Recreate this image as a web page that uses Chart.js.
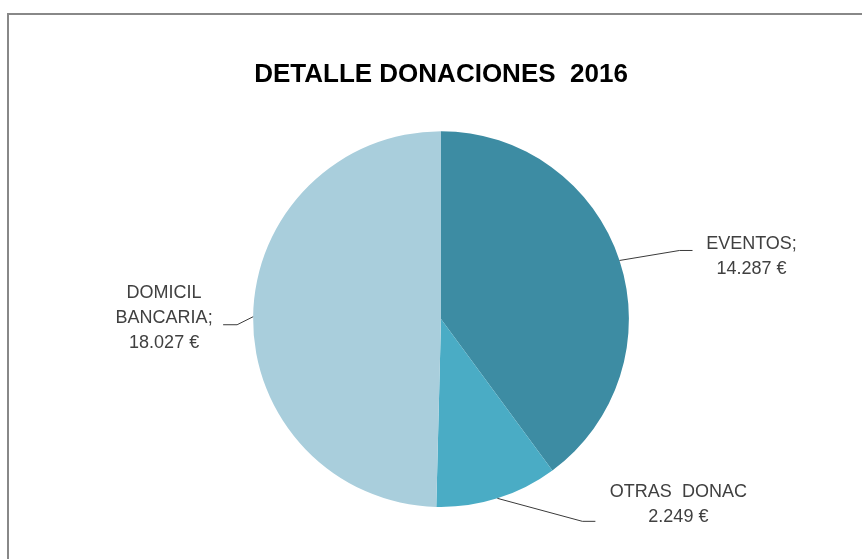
<!DOCTYPE html>
<html>
<head>
<meta charset="utf-8">
<script src="https://cdn.jsdelivr.net/npm/chart.js@4.4.1/dist/chart.umd.min.js"></script>
<style>
    html, body { margin: 0; padding: 0; background: #fff; overflow: hidden; }
    .frame {
        position: absolute; left: 7px; top: 13px; width: 1000px; height: 1000px;
        border: 2px solid #888;
    }
    #chart { position: absolute; left: 0; top: 0; }
</style>
</head>
<body>
<div class="frame"></div>
<canvas id="chart" width="862" height="559"></canvas>
<script>
// Chart data
const categories = ['EVENTOS', 'OTRAS  DONAC', 'DOMICIL BANCARIA'];
// amounts printed on the labels (€)
const donations = [14287, 2249, 18027];
// share of the circle each slice takes in the drawn pie (%)
const sliceShares = [39.9, 10.5, 49.6];
const sliceColors = ['#3d8ca3', '#4aacc5', '#a9cedc'];

// Label text lines (category part) for each slice
const labelNames = [
    ['EVENTOS;'],
    ['OTRAS  DONAC'],
    ['DOMICIL', 'BANCARIA;']
];

// Label layout: where the leader touches the slice (fraction of the arc),
// elbow / end of the leader and text centre, relative to that touch point
const labelLayout = [
    { frac: 0.5, elbow: [60, -10], end: [73, -10], text: [132, -4] },
    { frac: 0.5, elbow: [85, 23], end: [98, 23], text: [181, 6] },
    { frac: 0.5, elbow: [-16, 8], end: [-30, 8], text: [-89, 1] }
];

const LABEL_FONT = '18px "Liberation Sans", Arial, sans-serif';
const LINE_HEIGHT = 25;

const formatEuro = v => v.toLocaleString('de-DE') + ' €';

/**
 * Draws the data labels with their leader lines
 */
const leaderLabels = {
    id: 'leaderLabels',
    afterDatasetsDraw(chart) {
        const ctx = chart.ctx;
        const arcs = chart.getDatasetMeta(0).data;
        ctx.save();
        arcs.forEach((arc, i) => {
            const p = arc.getProps(['x', 'y', 'startAngle', 'endAngle', 'outerRadius'], true);
            const lay = labelLayout[i];
            const a = p.startAngle + (p.endAngle - p.startAngle) * lay.frac;
            const sx = p.x + Math.cos(a) * p.outerRadius;
            const sy = p.y + Math.sin(a) * p.outerRadius;

            // Leader line
            ctx.strokeStyle = '#3a3a3a';
            ctx.lineWidth = 1;
            ctx.beginPath();
            ctx.moveTo(sx, sy);
            ctx.lineTo(sx + lay.elbow[0], sy + lay.elbow[1]);
            ctx.lineTo(sx + lay.end[0], sy + lay.end[1]);
            ctx.stroke();

            // Text
            const lines = [...labelNames[i], formatEuro(donations[i])];
            const cx = sx + lay.text[0];
            const cy = sy + lay.text[1];
            ctx.font = LABEL_FONT;
            ctx.fillStyle = '#404040';
            ctx.textAlign = 'center';
            ctx.textBaseline = 'middle';
            const top = cy - (lines.length - 1) * LINE_HEIGHT / 2;
            lines.forEach((line, k) => {
                ctx.fillText(line, cx, top + k * LINE_HEIGHT);
            });
        });
        ctx.restore();
    }
};

const ctx = document.getElementById('chart').getContext('2d');
new Chart(ctx, {
    type: 'pie',
    data: {
        labels: categories,
        datasets: [{
            data: sliceShares,
            backgroundColor: sliceColors,
            borderWidth: 0
        }]
    },
    options: {
        responsive: false,
        animation: false,
        layout: {
            padding: { left: 20, right: 0, top: 0, bottom: 52 }
        },
        plugins: {
            legend: { display: false },
            tooltip: { enabled: false },
            title: {
                display: true,
                text: 'DETALLE DONACIONES  2016',
                color: '#000',
                font: { family: '"Liberation Sans", Arial, sans-serif', size: 26, weight: 'bold', lineHeight: 1.2 },
                padding: { top: 59, bottom: 41 }
            }
        }
    },
    plugins: [leaderLabels]
});
</script>
</body>
</html>
